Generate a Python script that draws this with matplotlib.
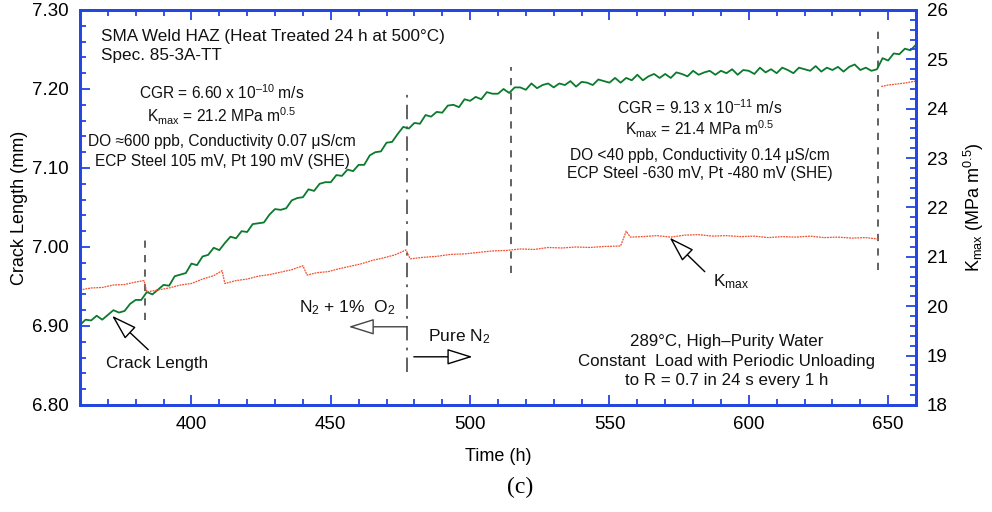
import numpy as np
import matplotlib
matplotlib.use("Agg")
import matplotlib.pyplot as plt
from matplotlib.ticker import MultipleLocator, FormatStrFormatter

plt.rcParams['font.family'] = ['Liberation Sans', 'DejaVu Sans']
plt.rcParams['mathtext.fontset'] = 'custom'
plt.rcParams['mathtext.rm'] = 'Liberation Sans'
plt.rcParams['mathtext.it'] = 'Liberation Sans'

# ------------------------------------------------------------
# data
# ------------------------------------------------------------
# crack length (mm), one reading every 2 h from 360 to 660 h
crack_hours = list(range(360, 661, 2))
crack_mm = [
    6.901, 6.908, 6.907, 6.913, 6.908, 6.914, 6.920, 6.917, 6.919, 6.928,
    6.933, 6.933, 6.943, 6.940, 6.946, 6.952, 6.951, 6.963, 6.965, 6.967,
    6.979, 6.977, 6.988, 6.990, 6.999, 6.996, 7.005, 7.013, 7.011, 7.020,
    7.019, 7.029, 7.030, 7.031, 7.041, 7.048, 7.047, 7.049, 7.059, 7.062,
    7.063, 7.073, 7.071, 7.080, 7.082, 7.082, 7.091, 7.090, 7.098, 7.096,
    7.104, 7.104, 7.116, 7.120, 7.121, 7.132, 7.133, 7.143, 7.152, 7.150,
    7.157, 7.156, 7.167, 7.165, 7.171, 7.170, 7.179, 7.180, 7.177, 7.187,
    7.185, 7.190, 7.187, 7.196, 7.194, 7.194, 7.200, 7.195, 7.202, 7.202,
    7.199, 7.207, 7.201, 7.205, 7.207, 7.202, 7.207, 7.205, 7.210, 7.203,
    7.209, 7.208, 7.205, 7.212, 7.210, 7.208, 7.214, 7.208, 7.214, 7.211,
    7.218, 7.211, 7.216, 7.219, 7.214, 7.219, 7.214, 7.221, 7.219, 7.216,
    7.223, 7.218, 7.221, 7.223, 7.218, 7.223, 7.220, 7.225, 7.218, 7.224,
    7.223, 7.219, 7.227, 7.221, 7.225, 7.220, 7.227, 7.224, 7.220, 7.227,
    7.225, 7.223, 7.229, 7.222, 7.227, 7.224, 7.228, 7.222, 7.228, 7.231,
    7.224, 7.227, 7.223, 7.225, 7.239, 7.236, 7.245, 7.244, 7.251, 7.249,
    7.256,
]

# Kmax (MPa m^0.5), sawtooth with a gap at the load step near 647 h
kmax_hours = [
    360, 364, 368, 372, 376, 380, 383,
    384, 388, 392, 396, 400, 404, 408, 411,
    412, 416, 420, 424, 428, 432, 436, 440,
    441.5, 445, 449, 453, 457, 461, 465, 469, 473, 477,
    478.5, 483, 488, 493, 498, 503, 508, 513, 518, 523, 528, 533, 538, 543, 548, 554,
    556, 557.5, 562, 567, 572, 577, 582, 587, 592, 597, 602, 607, 612, 617, 622,
    627, 632, 637, 642, 646.5,
    647, 647.5, 650, 653, 656, 660,
]
kmax_vals = [
    20.33, 20.37, 20.38, 20.43, 20.44, 20.49, 20.52,
    20.29, 20.33, 20.37, 20.43, 20.46, 20.55, 20.62, 20.72,
    20.46, 20.52, 20.55, 20.61, 20.64, 20.69, 20.74, 20.82,
    20.63, 20.68, 20.70, 20.76, 20.81, 20.86, 20.93, 20.98, 21.04, 21.14,
    20.96, 20.99, 21.01, 21.05, 21.06, 21.09, 21.12, 21.13, 21.16, 21.15, 21.19,
    21.18, 21.20, 21.19, 21.21, 21.22,
    21.52, 21.40, 21.41, 21.43, 21.40, 21.44, 21.45, 21.42, 21.43, 21.41, 21.42,
    21.39, 21.41, 21.40, 21.42, 21.39, 21.40, 21.38, 21.39, 21.36,
    np.nan, 24.45, 24.48, 24.50, 24.52, 24.56,
]

# vertical markers: time, bottom and top (mm), line style
markers_t = [383.5, 477.5, 514.5, 646.5]
markers_lo = [6.908, 6.842, 6.967, 6.971]
markers_hi = [7.015, 7.201, 7.228, 7.281]
markers_ls = [(0, (4, 4)), (0, (8, 4, 1.5, 4)), (0, (4, 4)), (0, (4, 4))]

blue = '#2346e0'
green = '#0b7a2c'
red = '#f2502e'

fig = plt.figure(figsize=(9.92, 5.12), dpi=100)
ax = fig.add_axes([0.0806, 0.209, 0.8428, 0.7715])
ax2 = ax.twinx()

ax.plot(crack_hours, crack_mm, color=green, lw=1.3, zorder=3)
ax2.plot(kmax_hours, kmax_vals, color=red, lw=0.9, ls=(0, (1.5, 0.7)), zorder=2)

for t, lo, hi, ls in zip(markers_t, markers_lo, markers_hi, markers_ls):
    ax.plot([t, t], [lo, hi], color='#555555', lw=1.3, ls=ls, zorder=1)

ax.set_xlim(360, 660)
ax.set_ylim(6.80, 7.30)
ax2.set_ylim(18, 26)

ax.xaxis.set_major_locator(MultipleLocator(50))
ax.xaxis.set_minor_locator(MultipleLocator(10))
ax.yaxis.set_major_locator(MultipleLocator(0.1))
ax.yaxis.set_minor_locator(MultipleLocator(0.02))
ax2.yaxis.set_major_locator(MultipleLocator(1))
ax2.yaxis.set_minor_locator(MultipleLocator(0.2))
ax.yaxis.set_major_formatter(FormatStrFormatter('%.2f'))

for a in (ax, ax2):
    for s in a.spines.values():
        s.set_color(blue)
        s.set_linewidth(2.0)
ax.tick_params(which='both', direction='in', color=blue, width=1.3,
               top=True, right=False, labelsize=13.5, pad=8)
ax.tick_params(which='major', length=7)
ax.tick_params(which='minor', length=4)
ax2.tick_params(which='both', direction='in', color=blue, width=1.3, labelsize=13.5, pad=8)
ax2.tick_params(which='major', length=7)
ax2.tick_params(which='minor', length=4)

ax.set_xlabel('Time (h)', fontsize=13, labelpad=11)
ax.set_ylabel('Crack Length (mm)', fontsize=13, labelpad=3)
ax2.set_ylabel(r'K$_{\mathrm{max}}$ (MPa m$^{0.5}$)', fontsize=13, labelpad=10)

tc = '#111111'
ax.text(367.6, 7.267, 'SMA Weld HAZ (Heat Treated 24 h at 500°C)', fontsize=12.3, color=tc, va='center')
ax.text(367.6, 7.242, 'Spec. 85-3A-TT', fontsize=12.3, color=tc, va='center')

fs = 11.2
ax.text(411, 7.195, 'CGR = 6.60 x 10$^{\u201310}$ m/s', fontsize=fs, color=tc, ha='center', va='center')
ax.text(411, 7.166, r'K$_{\mathrm{max}}$ = 21.2 MPa m$^{0.5}$', fontsize=fs, color=tc, ha='center', va='center')
ax.text(411, 7.134, 'DO \u2248600 ppb, Conductivity 0.07 \u03bcS/cm', fontsize=fs, color=tc, ha='center', va='center')
ax.text(411, 7.108, 'ECP Steel 105 mV, Pt 190 mV (SHE)', fontsize=fs, color=tc, ha='center', va='center')

ax.text(582.5, 7.177, 'CGR = 9.13 x 10$^{\u201311}$ m/s', fontsize=fs, color=tc, ha='center', va='center')
ax.text(582.5, 7.149, r'K$_{\mathrm{max}}$ = 21.4 MPa m$^{0.5}$', fontsize=fs, color=tc, ha='center', va='center')
ax.text(582.5, 7.116, 'DO <40 ppb, Conductivity 0.14 \u03bcS/cm', fontsize=fs, color=tc, ha='center', va='center')
ax.text(582.5, 7.093, 'ECP Steel -630 mV, Pt -480 mV (SHE)', fontsize=fs, color=tc, ha='center', va='center')

fs2 = 12.2
ax.text(592, 6.880, '289°C, High\u2013Purity Water', fontsize=fs2, color=tc, ha='center', va='center')
ax.text(592, 6.855, 'Constant  Load with Periodic Unloading', fontsize=fs2, color=tc, ha='center', va='center')
ax.text(592, 6.831, 'to R = 0.7 in 24 s every 1 h', fontsize=fs2, color=tc, ha='center', va='center')

head = dict(arrowstyle='-|>,head_length=1.6,head_width=0.5', fc='white', ec='black',
            lw=1.0, mutation_scale=10, shrinkA=0, shrinkB=0)
ax.annotate('', xy=(371.5, 6.913), xytext=(384.5, 6.870), arrowprops=head)
ax.text(387.7, 6.853, 'Crack Length', fontsize=12.3, color=tc, ha='center', va='center')

ax2.annotate('', xy=(571.6, 21.39), xytext=(584.2, 20.70), arrowprops=head)
ax2.text(593.8, 20.49, r'K$_{\mathrm{max}}$', fontsize=12.3, color=tc, ha='center', va='center')

gray_head = dict(head, ec='#444444')
ax.annotate('', xy=(456.4, 6.899), xytext=(477.3, 6.899), arrowprops=gray_head)
ax.text(456, 6.923, r'N$_2$ + 1%  O$_2$', fontsize=12.5, color=tc, ha='center', va='center')
ax.annotate('', xy=(500.9, 6.861), xytext=(479.8, 6.861), arrowprops=head)
ax.text(496, 6.886, r'Pure N$_2$', fontsize=12.5, color=tc, ha='center', va='center')

fig.text(0.524, 0.047, '(c)', fontsize=17, family='Liberation Serif', ha='center', va='center')

fig.savefig('out.png', dpi=100)
